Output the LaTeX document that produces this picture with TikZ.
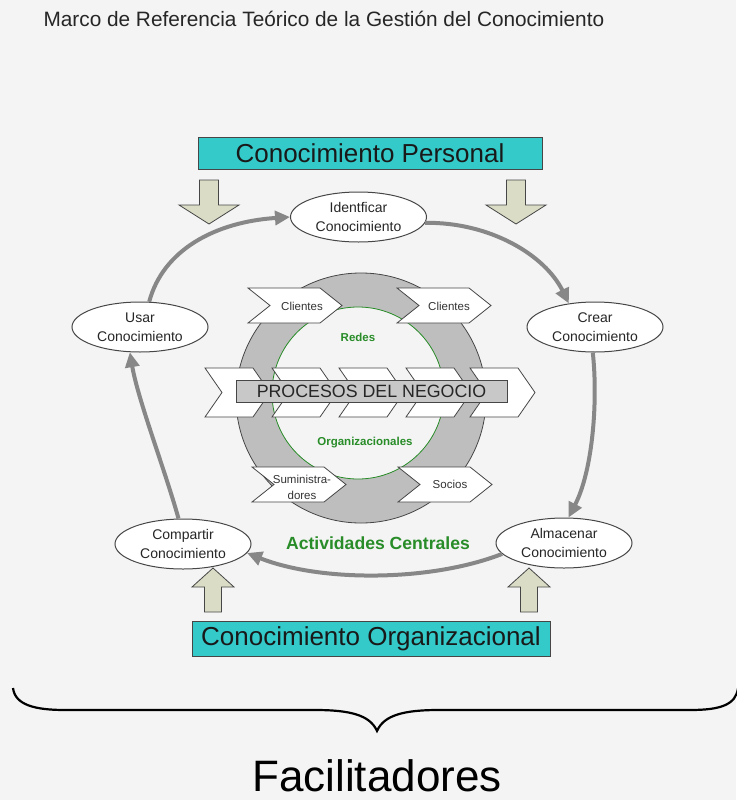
\documentclass[tikz,border=0pt]{standalone}
\usepackage{fontspec}
\setmainfont{Liberation Sans}
\definecolor{fondo}{RGB}{244, 244, 244}
\definecolor{turquesa}{RGB}{52, 202, 202}
\definecolor{flechafill}{RGB}{218, 220, 198}
\definecolor{anillo}{RGB}{190, 190, 190}
\definecolor{procfill}{RGB}{200, 200, 200}
\definecolor{ciclogris}{RGB}{135, 135, 135}
\definecolor{verde}{RGB}{40, 140, 40}
\definecolor{borde}{RGB}{70, 70, 70}
\usetikzlibrary{shapes.geometric, arrows.meta}
\tikzset{
    actividad/.style={ellipse, draw=borde, fill=white, line width=1pt,
        minimum width=136pt, minimum height=50pt, inner sep=0pt, align=center,
        text=black!85, font=\fontsize{14}{19}\selectfont},
    conbox/.style={draw=borde, fill=turquesa, inner sep=0pt, text=black!90,
        font=\fontsize{26}{30}\selectfont},
    procbox/.style={draw=borde, fill=procfill, line width=.8pt, inner sep=0pt,
        minimum width=271pt, minimum height=22pt, text=black!85,
        font=\fontsize{17.8}{20}\selectfont},
    chevtexto/.style={text=black!80, align=center, font=\fontsize{11.5}{16}\selectfont},
    verdetexto/.style={text=verde, font=\bfseries\fontsize{11.5}{14}\selectfont},
    ciclo/.style={draw=ciclogris, line width=4pt, -{Triangle[length=15pt, width=14pt]}},
    flechabaja/.pic={
        \draw[draw=borde, fill=flechafill, line width=.8pt] (-9.5, 0) -- (9.5, 0)
            -- (9.5, 25) -- (30, 25) -- (0, 44) -- (-30, 25) -- (-9.5, 25) -- cycle;
    },
    flechaalta/.pic={
        \draw[draw=borde, fill=flechafill, line width=.8pt] (-8.5, 0) -- (8.5, 0)
            -- (8.5, -25) -- (21, -25) -- (0, -44) -- (-21, -25) -- (-8.5, -25) -- cycle;
    },
    chevron/.pic={
        \draw[draw=borde, fill=white, line width=.8pt] (0, 0) -- (72, 0) -- (94, 17.5)
            -- (72, 35) -- (0, 35) -- (22, 17.5) -- cycle;
    },
    proceso/.pic={
        \draw[draw=borde, fill=white, line width=.8pt] (0, 0) -- (48, 0) -- (65, 24.5)
            -- (48, 49) -- (0, 49) -- (17, 24.5) -- cycle;
    },
}

\begin{document}
\begin{tikzpicture}[x=1pt, y=-1pt]
    \useasboundingbox (0, 0) rectangle (736, 800);
    \fill[fondo] (0, 0) rectangle (736, 800);
    \node[anchor=base west, text=black!85, font=\fontsize{20.8}{24}\selectfont] (titulo)
        at (40, 27) {Marco de Referencia Teórico de la Gestión del Conocimiento};

    \fill[anillo, even odd rule] (361, 398) circle [radius=125pt]
        (358, 393) circle [radius=86pt];
    \draw[borde, line width=.8pt] (361, 398) circle [radius=125pt];
    \draw[verde, line width=.8pt] (358, 393) circle [radius=86pt];
    \foreach \x in {205, 272, 339, 406, 470}
        \pic at (\x, 368) {proceso};
    \node[procbox] (procesos) at (371.5, 391) {PROCESOS DEL NEGOCIO};
    \foreach \x/\y in {248/288, 397/288, 252/467, 398/467}
        \pic at (\x, \y) {chevron};
    \node[chevtexto] (clientesA) at (302, 306) {Clientes};
    \node[chevtexto] (clientesB) at (449, 306) {Clientes};
    \node[chevtexto] (suministra) at (302, 487) {Suministra-\\dores};
    \node[chevtexto] (socios) at (450, 484) {Socios};
    \node[verdetexto] (redes) at (358, 337) {Redes};
    \node[verdetexto] (organiza) at (365, 443) {Organizacionales};
    \node[verdetexto, font=\bfseries\fontsize{17.6}{20}\selectfont] (centrales)
        at (378, 543) {Actividades Centrales};

    \node[conbox, minimum width=344pt, minimum height=32pt] (personal) at (370, 153)
        {Conocimiento Personal};
    \node[conbox, minimum width=358pt, minimum height=35pt] (organizacional)
        at (371, 638.5) {Conocimiento Organizacional};
    \pic at (209, 180) {flechabaja};
    \pic at (516, 180) {flechabaja};
    \pic at (213, 612) {flechaalta};
    \pic at (529, 612) {flechaalta};

    \node[actividad] (ident) at (358.5, 217) {Identficar\\Conocimiento};
    \node[actividad] (usar) at (140, 327) {Usar\\Conocimiento};
    \node[actividad] (crear) at (595, 327) {Crear\\Conocimiento};
    \node[actividad] (almacenar) at (564, 543) {Almacenar\\Conocimiento};
    \node[actividad] (compartir) at (183, 544) {Compartir\\Conocimiento};

    \draw[ciclo] (usar.70) .. controls (163, 250) and (215, 222) .. (ident.west);
    \draw[ciclo] (ident.-5) .. controls (490, 222) and (545, 255) .. (crear.138);
    \draw[ciclo] (crear.-95) .. controls (598, 400) and (593, 470) .. (almacenar.80);
    \draw[ciclo] (almacenar.190) .. controls (430, 582) and (320, 582) .. (compartir.-8);
    \draw[ciclo] (compartir.100) .. controls (165, 470) and (138, 400) .. (usar.248);

    \draw[line width=2.2pt] (13, 688) .. controls (15, 705) and (35, 710) .. (65, 710)
        -- (315, 710) .. controls (350, 710) and (370, 715) .. (377, 731)
        .. controls (384, 715) and (404, 710) .. (439, 710) -- (690, 710)
        .. controls (720, 710) and (736, 705) .. (738, 688);
    \node[anchor=base, text depth=0pt, inner sep=0pt, font=\fontsize{44}{50}\selectfont]
        (facilitadores) at (377, 791) {Facilitadores};
\end{tikzpicture}
\end{document}
